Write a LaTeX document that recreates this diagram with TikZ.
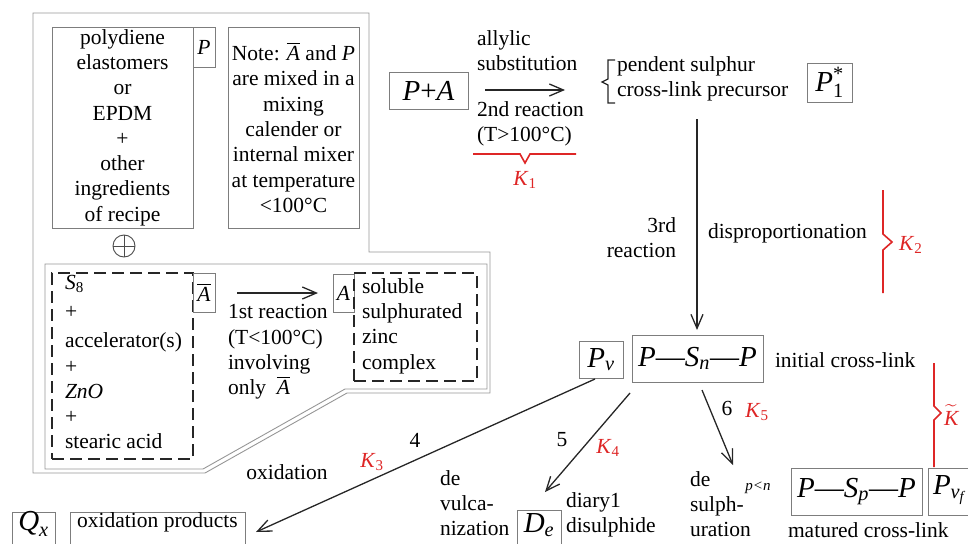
\documentclass[tikz,border=0pt]{standalone}
\usepackage{fontspec}
\setmainfont{Liberation Serif}
\usepackage{amsmath}
\usetikzlibrary{arrows.meta}
\definecolor{kred}{RGB}{222,38,38}
\definecolor{boxgray}{RGB}{125,125,125}
\definecolor{framegray}{RGB}{150,150,150}
\newcommand{\Ab}{\ensuremath{\overline{\text{\textit{A}}}}}
\newcommand{\Kx}[1]{\ensuremath{\text{\textit{K}}_{\text{#1}}}}
\newcommand{\Iv}[1]{\textit{#1}}
\begin{document}
\begin{tikzpicture}[x=1pt,y=-1pt,
  font=\fontsize{21.5}{25.3}\selectfont,
  every node/.style={inner sep=0pt, outer sep=0pt},
  gbox/.style={draw=boxgray, line width=0.8pt, inner sep=0pt},
  dbox/.style={draw=black!85, line width=1.8pt, dash pattern=on 12pt off 6pt},
  big/.style={font=\fontsize{29}{32}\selectfont},
  arr/.style={line width=1.3pt, draw=black!85, -{Straight Barb[length=14pt,width=12pt,line width=1.3pt]}},
  brace/.style={draw=kred, line width=1.6pt},
  frame/.style={draw=framegray, line width=0.9pt}
]
\useasboundingbox (0,0) rectangle (968,543);
% frames
\draw[frame] (33,13) -- (369,13) -- (369,252) -- (490,252) -- (490,393) -- (347,393) -- (205,473) -- (33,473) -- cycle;
\draw[frame] (45,264) -- (487,264) -- (487,389) -- (345,389) -- (203,469) -- (45,469) -- cycle;
% top-left boxes
\node[gbox, minimum width=141pt, minimum height=201pt, align=center] (poly) at (122.5,127.5) {polydiene\\elastomers\\or\\EPDM\\+\\other\\ingredients\\of recipe};
\node[gbox, minimum width=22pt, minimum height=40pt] (pbox) at (204,47) {\Iv{P}};
\node[gbox, minimum width=131pt, minimum height=201pt, align=center] (note) at (293.5,127.5) {Note: \Ab{} and \Iv{P}\\are mixed in a\\mixing\\calender or\\internal mixer\\at temperature\\<100°C};
\node[circle, draw=black!70, line width=0.9pt, minimum size=22pt] (oplus) at (124,246) {};
\draw[black!70, line width=0.9pt] (oplus.north) -- (oplus.south) (oplus.west) -- (oplus.east);
% accelerator system
\node[dbox, minimum width=141pt, minimum height=186pt] (sbox) at (122.5,366) {};
\node[anchor=west, align=left] (stxt) at (65,362) {\Iv{S}$_{\text{8}}$\\[4pt]+\\[4pt]accelerator(s)\\+\\\Iv{ZnO}\\+\\stearic acid};
\node[gbox, minimum width=22pt, minimum height=39pt] (abar) at (204,292.5) {\Ab};
\coordinate (r1s) at (237,293);
\coordinate (r1e) at (318,293);
\draw[arr] (r1s) -- (r1e);
\node[anchor=west, align=left] (r1t) at (228,352) {1st reaction\\(T<100°C)\\involving\\only~~\Ab};
\node[gbox, minimum width=21pt, minimum height=38pt] (abox) at (343.5,293) {\Iv{A}};
\node[dbox, minimum width=123pt, minimum height=108pt] (sol) at (415.5,327) {};
\node[anchor=west, align=left] (soltxt) at (362,326) {soluble\\sulphurated\\zinc\\complex};
% second reaction
\node[gbox, big, minimum width=79pt, minimum height=37pt] (pa) at (428.5,90.5) {\Iv{P}+\Iv{A}};
\coordinate (r2s) at (485,90);
\coordinate (r2e) at (565,90);
\draw[arr] (r2s) -- (r2e);
\node[anchor=west, align=left] (allyl) at (477,50.5) {allylic\\substitution};
\node[anchor=west, align=left] (r2t) at (477,124) {2nd reaction\\(T>100°C)};
\draw[brace] (473,154) -- (520,154) -- (525,163) -- (530,154) -- (576,154);
\node[text=kred] (k1) at (525,180) {\Kx{1}};
\draw[black!85, line width=1.3pt] (615,60) -- (608,60) -- (608,79) -- (602,82) -- (608,85) -- (608,103) -- (615,103);
\node[anchor=west, align=left] (pend) at (617,79) {pendent sulphur\\cross-link precursor};
\node[gbox, big, minimum width=45pt, minimum height=39pt] (p1) at (829.5,82.5) {\ensuremath{\text{\textit{P}}_{\text{1}}^{\text{*}}}};
% third reaction
\node[gbox, big, minimum width=131pt, minimum height=47pt] (psn) at (697.5,358.5) {\Iv{P}—\Iv{S}$_{\text{\textit{n}}}$—\Iv{P}};
\coordinate (v3s) at (697,119);
\draw[arr, shorten >=5pt] (v3s) -- (v3s |- psn.north);
\node[anchor=east, align=right] (r3t) at (676,237.5) {3rd\\reaction};
\node[anchor=west] (disp) at (708,233) {disproportionation};
\draw[brace] (883,190) -- (883,234) -- (892,242) -- (883,250) -- (883,293);
\node[anchor=west, text=kred] (k2) at (899,245) {\Kx{2}};
\node[gbox, big, minimum width=44pt, minimum height=37pt] (pv) at (601,359.5) {\ensuremath{\text{\textit{P}}_{\text{\textit{v}}}}};
\node[anchor=west] (icl) at (775,360) {initial cross-link};
% oxidation
\coordinate (o4s) at (595,379);
\coordinate (o4e) at (256,532);
\draw[arr] (o4s) -- (o4e);
\node (n4) at (415,440) {4};
\node[text=kred] (k3) at (372,462) {\Kx{3}};
\node (oxid) at (287,472) {oxidation};
\node[gbox, minimum width=43pt, minimum height=33pt] (qx) at (33.5,528.5) {};
\node[big] (qxt) at (33.5,524) {\ensuremath{\text{\textit{Q}}_{\text{\textit{x}}}}};
\node[gbox, minimum width=175pt, minimum height=33pt] (oxp) at (157.5,528.5) {};
\node (oxpt) at (157.5,522) {oxidation products};
% devulcanization
\coordinate (a5s) at (630,393);
\coordinate (a5e) at (545,492);
\draw[arr] (a5s) -- (a5e);
\node (n5) at (562,440) {5};
\node[text=kred] (k4) at (608,448) {\Kx{4}};
\node[anchor=west, align=left] (devul) at (440,503) {de\\vulca-\\nization};
\node[gbox, minimum width=44pt, minimum height=35pt] (de) at (539,527.5) {};
\node[big] (det) at (539,525) {\ensuremath{\text{\textit{D}}_{\text{\textit{e}}}}};
\node[anchor=west, align=left] (diar) at (566,515) {diary1\\disulphide};
% desulphuration
\coordinate (a6s) at (702,390);
\coordinate (a6e) at (733,465);
\draw[arr] (a6s) -- (a6e);
\node (n6) at (727,408) {6};
\node[text=kred] (k5) at (757,412) {\Kx{5}};
\node[anchor=west, align=left] (desul) at (690,504) {de\\sulph-\\uration};
\node[font=\fontsize{15}{17}\selectfont\itshape] (pn) at (758,488) {p<n};
\node[gbox, big, minimum width=131pt, minimum height=47pt] (psp) at (856.5,491.5) {\Iv{P}—\Iv{S}$_{\text{\textit{p}}}$—\Iv{P}};
\node[gbox, minimum width=52pt, minimum height=47pt] (pvf) at (954,491.5) {};
\node[big, anchor=west] (pvft) at (933,490) {\ensuremath{\text{\textit{P}}_{\text{\textit{v}}_{\text{\textit{f}}}}}};
\node[anchor=west] (mcl) at (788,530) {matured cross-link};
\draw[brace] (934,363) -- (934,406) -- (941,413) -- (934,420) -- (934,467);
\node[anchor=west, text=kred] (kt) at (944,415) {\ensuremath{\widetilde{\text{\textit{K}}}}};
\end{tikzpicture}
\end{document}
